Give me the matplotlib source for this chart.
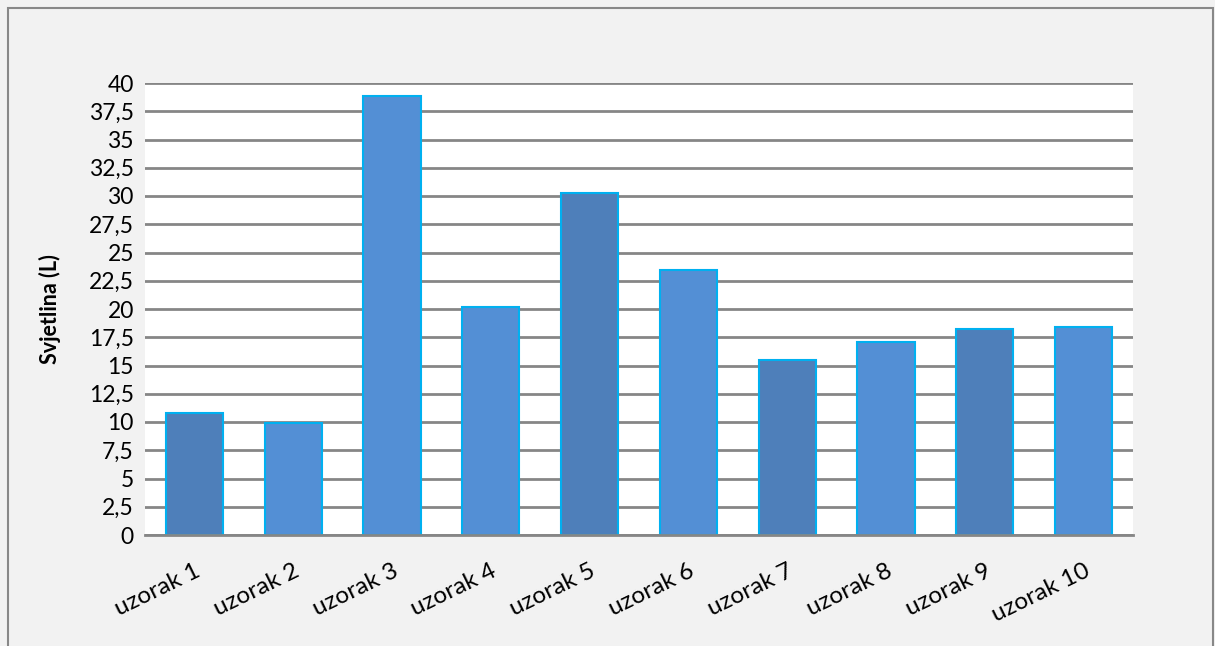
import matplotlib.pyplot as plt
from matplotlib.patches import Rectangle
from matplotlib.ticker import FuncFormatter, MultipleLocator

# chart data
uzorci = ["uzorak 1", "uzorak 2", "uzorak 3", "uzorak 4", "uzorak 5",
          "uzorak 6", "uzorak 7", "uzorak 8", "uzorak 9", "uzorak 10"]
svjetlina = [10.8, 9.9, 38.85, 20.2, 30.3, 23.45, 15.5, 17.1, 18.2, 18.4]
boje = ["#4E7FBA", "#538FD5", "#538FD5", "#538FD5", "#4E7FBA",
        "#538FD5", "#4E7FBA", "#538FD5", "#4E7FBA", "#538FD5"]

plt.rcParams['font.family'] = ['Lato', 'DejaVu Sans']

fig = plt.figure(figsize=(12.15, 6.46), dpi=100)
fig.patch.set_facecolor("#F2F2F2")
# outer chart-area border
fig.patches.append(Rectangle((8 / 1215, -0.05), 1205 / 1215, 1.05 - 8 / 646,
                             transform=fig.transFigure, fill=False,
                             edgecolor="#888888", linewidth=1.5))

ax = fig.add_axes([145 / 1215, 1 - 535 / 646, 988 / 1215, 452 / 646])
ax.set_facecolor("white")

x = range(len(uzorci))
ax.bar(x, svjetlina, width=0.58, color=boje, edgecolor="#00B0F0",
       linewidth=1.5, zorder=3)

ax.set_xlim(-0.5, len(uzorci) - 0.5)
ax.set_ylim(0, 40)
ax.yaxis.set_major_locator(MultipleLocator(2.5))
ax.yaxis.set_major_formatter(
    FuncFormatter(lambda v, p: ("%g" % v).replace(".", ",")))
ax.grid(axis="y", color="#868686", linewidth=2, zorder=0)

for s in ["top", "right", "left"]:
    ax.spines[s].set_visible(False)
ax.spines["bottom"].set_color("#868686")
ax.spines["bottom"].set_linewidth(2)
ax.spines["bottom"].set_zorder(4)

ax.tick_params(axis="both", length=0, labelsize=16.5, colors="black")
ax.tick_params(axis="y", pad=8)
ax.set_xticks(list(x))
ax.set_xticklabels(uzorci, rotation=26, ha="right", va="top",
                   rotation_mode="anchor", fontsize=17.5)
ax.tick_params(axis="x", pad=18)

ax.set_ylabel("Svjetlina (L)", fontsize=15.5, fontweight="bold", labelpad=20)

fig.savefig("out.png", dpi=100, facecolor=fig.get_facecolor())
